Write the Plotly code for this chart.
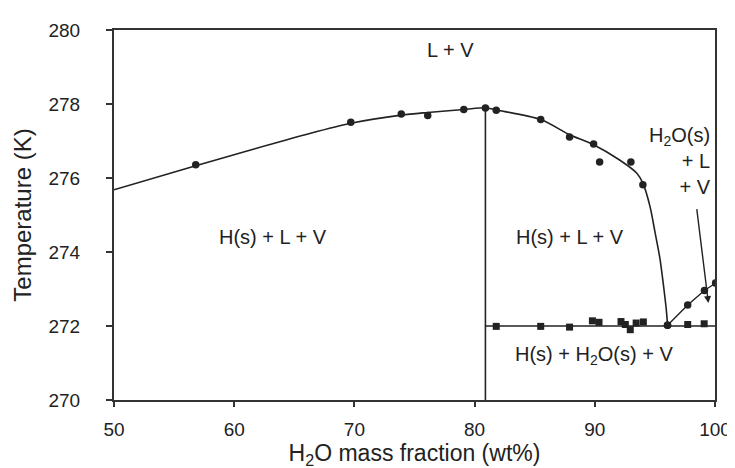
import plotly.graph_objects as go

# Upper boundary curve (H(s)+L+V / L+V)
curve_x = [50, 56.8, 61.8, 65.9, 69.7, 73.9, 76.1, 79.1, 80.9, 81.8, 85.5, 87.9,
           89.9, 92.0, 93.5, 94.0, 94.6, 95.0, 95.41, 95.75, 95.96, 96.05]
curve_y = [275.68, 276.33, 276.8, 277.17, 277.48, 277.7, 277.77, 277.85, 277.9, 277.84,
           277.58, 277.17, 276.9, 276.5, 276.13, 275.86, 275.22, 274.55, 273.84, 273.0,
           272.4, 272.02]

# Measured points on upper curve (circles)
pts_x = [56.8, 69.7, 73.9, 76.1, 79.1, 80.9, 81.8, 85.5, 87.9, 89.9, 90.4, 93.0, 94.0, 96.05]
pts_y = [276.36, 277.51, 277.73, 277.69, 277.85, 277.89, 277.83, 277.58, 277.11, 276.92,
         276.43, 276.43, 275.82, 272.02]

# Ice liquidus line (H2O(s)+L+V)
ice_x = [96.05, 97.73, 99.12, 100.05]
ice_y = [272.02, 272.57, 272.96, 273.16]

# Eutectic points (squares)
eut_x = [81.8, 85.5, 87.9, 89.8, 90.35, 92.18, 92.54, 92.95, 93.44, 94.04, 97.73, 99.1]
eut_y = [271.99, 271.99, 271.97, 272.14, 272.1, 272.12, 272.04, 271.9, 272.08, 272.11,
         272.04, 272.06]

# Eutectic line and hydrate composition line
eut_line_x = [80.9, 100]
eut_line_y = [272.0, 272.0]
vert_x = [80.9, 80.9]
vert_y = [270, 277.9]

x_ticks = [50, 60, 70, 80, 90, 100]
y_ticks = [270, 272, 274, 276, 278, 280]

INK = "#222222"
FONT = "Liberation Sans, Arial, sans-serif"

fig = go.Figure()
fig.add_trace(go.Scatter(x=curve_x, y=curve_y, mode="lines",
                         line=dict(color=INK, width=1.6, shape="spline", smoothing=0.8),
                         hoverinfo="skip", showlegend=False))
fig.add_trace(go.Scatter(x=vert_x, y=vert_y, mode="lines",
                         line=dict(color=INK, width=1.6), showlegend=False))
fig.add_trace(go.Scatter(x=eut_line_x, y=eut_line_y, mode="lines",
                         line=dict(color=INK, width=1.6), showlegend=False))
fig.add_trace(go.Scatter(x=ice_x, y=ice_y, mode="lines+markers",
                         line=dict(color=INK, width=1.4),
                         marker=dict(symbol="circle", size=7.5, color=INK), showlegend=False))
fig.add_trace(go.Scatter(x=pts_x, y=pts_y, mode="markers",
                         marker=dict(symbol="circle", size=7.5, color=INK), showlegend=False))
fig.add_trace(go.Scatter(x=eut_x, y=eut_y, mode="markers",
                         marker=dict(symbol="square", size=7, color=INK), showlegend=False))

ann_font = dict(family=FONT, size=20, color=INK)
annotations = [
    dict(x=78.0, y=279.45, text="L + V", showarrow=False, font=ann_font),
    dict(x=63.2, y=274.4, text="H(s) + L + V", showarrow=False, font=ann_font),
    dict(x=87.9, y=274.4, text="H(s) + L + V", showarrow=False, font=ann_font),
    dict(x=89.9, y=271.2, text="H(s) + H<sub>2</sub>O(s) + V", showarrow=False, font=ann_font),
    dict(x=99.85, y=276.45, text="H<sub>2</sub>O(s)<br>+ L<br>+ V", showarrow=False,
         align="right", xanchor="right", font=ann_font),
    dict(x=99.45, y=272.62, ax=98.47, ay=275.2, xref="x", yref="y", axref="x", ayref="y",
         text="", showarrow=True, arrowhead=2, arrowsize=1, arrowwidth=1.4, arrowcolor=INK),
]

axis_common = dict(showline=True, linecolor="#333333", linewidth=2, mirror=True,
                   ticks="outside", tickcolor="#333333", tickwidth=1.5,
                   showgrid=False, zeroline=False,
                   tickfont=dict(family=FONT, size=19, color=INK))

fig.update_layout(
    width=735, height=468,
    margin=dict(l=106, r=19, t=22, b=76),
    paper_bgcolor="white", plot_bgcolor="white",
    xaxis=dict(range=[50, 100], tickvals=x_ticks, ticklen=5, ticklabelstandoff=6,
               title=dict(text="H<sub>2</sub>O mass fraction (wt%)",
                          font=dict(family=FONT, size=23, color=INK), standoff=3),
               **axis_common),
    yaxis=dict(range=[270, 280], tickvals=y_ticks, ticklen=6, ticklabelstandoff=22,
               title=dict(text="Temperature (K)",
                          font=dict(family=FONT, size=24, color=INK), standoff=10),
               **axis_common),
    annotations=annotations,
    showlegend=False,
)

fig.write_html("out.html")
